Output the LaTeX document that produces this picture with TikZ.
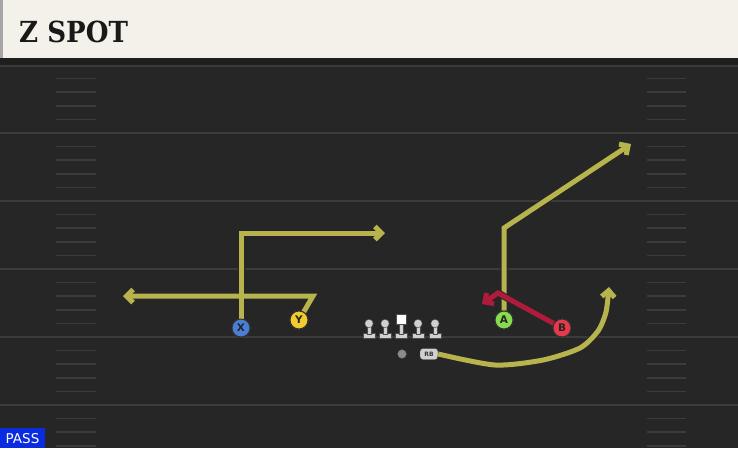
\documentclass[tikz,border=0pt]{standalone}
\usepackage{fontspec}
\setmainfont{DejaVu Sans}
\newfontfamily\titlefont{DejaVu Serif}[FakeStretch=0.9]
\usetikzlibrary{arrows.meta}
\definecolor{field}{HTML}{262626}
\definecolor{yardline}{HTML}{3B3B3B}
\definecolor{cream}{HTML}{F4F1EA}
\definecolor{route}{HTML}{B7B44E}
\definecolor{routered}{HTML}{B01A3C}
\definecolor{pblue}{HTML}{4A7FD8}
\definecolor{pyellow}{HTML}{F2CC2E}
\definecolor{pgreen}{HTML}{86DB4E}
\definecolor{pred}{HTML}{E8394C}
\definecolor{lineman}{HTML}{D0D0D0}
\definecolor{passblue}{HTML}{0A2BE0}
\tikzset{
  player/.style={circle, draw=black!80, line width=1pt, minimum size=18pt, inner sep=0pt,
    font=\bfseries\fontsize{10.5}{10.5}\selectfont, text=black!85},
  routeout/.style={line width=7pt, draw=black!85, line join=miter, -{Straight Barb[length=1pt 1.1, width=2pt 2.2]}},
  routein/.style={line width=5pt, line join=miter, -{Straight Barb[length=1pt 1.1, width=2pt 2.2]}},
  hashmark/.style={draw=yardline, line width=1.5pt},
  yard/.style={draw=yardline, line width=2pt},
  olman/.style={fill=lineman, draw=black!70, line width=0.4pt}
}
\begin{document}
\begin{tikzpicture}[x=1pt,y=-1pt]
\useasboundingbox (0,0) rectangle (738,448);
% field
\fill[field] (0,0) rectangle (738,448);
\fill[black!88] (0,58) rectangle (738,65);
\draw[yardline, line width=1.5pt] (0,66) -- (738,66);
\foreach \yy in {133,201,269,337,405} \draw[yard] (0,\yy) -- (738,\yy);
\foreach \j in {1,2,3,4,6,7,8,9,11,12,13,14,16,17,18,19,21,22,23,24,26,27,28} {
  \pgfmathsetmacro{\hy}{65+13.6*\j}
  \draw[hashmark] (56,\hy) -- (96,\hy);
  \draw[hashmark] (647,\hy) -- (686,\hy);
}
% title bar
\fill[cream] (0,0) rectangle (738,58);
\fill[black!35] (0,0) rectangle (3,58);
\node[anchor=west, inner sep=0pt, font=\titlefont\bfseries\fontsize{29}{29}\selectfont, text=black!90] (title) at (19,32) {Z SPOT};
% offensive line
\foreach \lx in {369,385,418,435} {
  \fill[olman] (\lx-6,333) rectangle (\lx+6,338);
  \fill[olman] (\lx-2.2,324) rectangle (\lx+2.2,334);
  \fill[olman] (\lx,323.5) circle (4.2);
}
\fill[olman] (395,333) rectangle (407,338);
\fill[olman] (398.8,323) rectangle (403.2,334);
\fill[white, draw=black!70, line width=0.4pt] (396,314) rectangle (406,324);
% players
\node[player, fill=pblue] (X) at (241,328) {X};
\node[player, fill=pyellow] (Y) at (299,320) {Y};
\node[player, fill=pgreen] (A) at (504,320) {A};
\node[player, fill=pred] (B) at (562,328) {B};
\node[circle, fill=black!45, draw=black!70, line width=0.4pt, minimum size=9pt, inner sep=0pt] (QB) at (402,354) {};
\node[rounded corners=3pt, fill=lineman, draw=black!70, line width=0.4pt, minimum width=18pt, minimum height=11pt, inner sep=0pt,
  font=\bfseries\fontsize{6}{6}\selectfont, text=black!80] (RB) at (429,354) {RB};
% route waypoints
\coordinate (x1) at (241,233); \coordinate (x2) at (385,233);
\coordinate (y1) at (313,296); \coordinate (y2) at (123,296);
\coordinate (a1) at (504,228); \coordinate (a2) at (631,144);
\coordinate (b1) at (498,293); \coordinate (b2) at (482,304);
% routes: outline then colour
\draw[routeout] (X) -- (x1) -- (x2);
\draw[routeout] (Y) -- (y1) -- (y2);
\draw[routeout] (A) -- (a1) -- (a2);
\draw[routeout] plot[smooth, tension=0.45] coordinates {(RB.east) (495,365) (543,360) (580,348) (598,331) (606,312) (609,287)};
\draw[routein, route] (X) -- (x1) -- (x2);
\draw[routein, route] (Y) -- (y1) -- (y2);
\draw[routein, route] (A) -- (a1) -- (a2);
\draw[routein, route] plot[smooth, tension=0.45] coordinates {(RB.east) (495,365) (543,360) (580,348) (598,331) (606,312) (609,287)};
\draw[routeout] (B) -- (b1) -- (b2);
\draw[routein, routered] (B) -- (b1) -- (b2);
% redraw players on top
\node[player, fill=pblue] at (X) {X};
\node[player, fill=pyellow] at (Y) {Y};
\node[player, fill=pgreen] at (A) {A};
\node[player, fill=pred] at (B) {B};
% pass badge
\fill[passblue] (0,428) rectangle (45,448);
\node[text=white, font=\fontsize{13.5}{13.5}\selectfont, inner sep=0pt] (pass) at (22.5,439) {PASS};
\end{tikzpicture}
\end{document}
